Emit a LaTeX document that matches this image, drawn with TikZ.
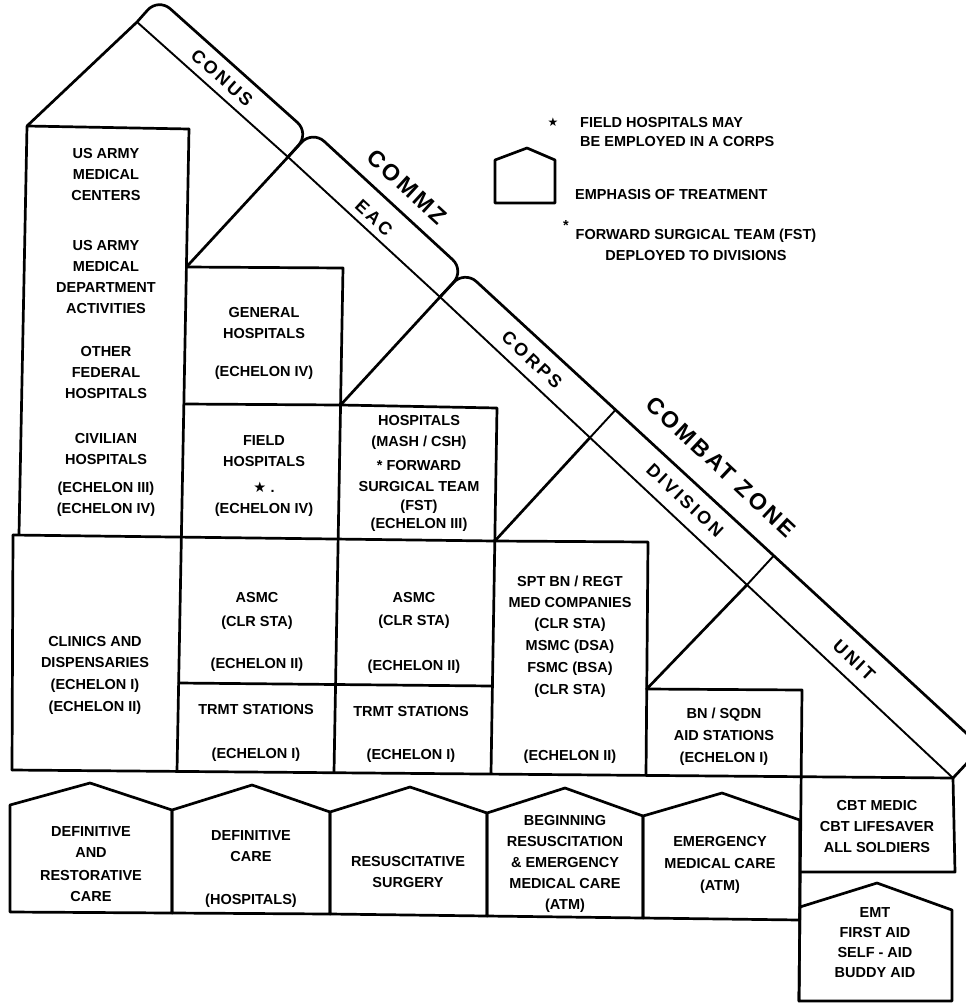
\documentclass[tikz,border=0pt]{standalone}
\usepackage{fontspec}
\setmainfont{Liberation Sans}
\newfontfamily\symfont{DejaVu Sans}
\usetikzlibrary{calc}
\begin{document}
\begin{tikzpicture}[x=1pt,y=-1pt,
  box/.style={line width=2.7pt,line join=round,line cap=round},
  innerline/.style={line width=1.9pt,line cap=round},
  lbl/.style={align=center,inner sep=0pt,font=\bfseries\fontsize{14.5}{21}\selectfont},
  band/.style={inner sep=0pt,font=\bfseries\fontsize{18}{18}\selectfont\addfontfeature{LetterSpace=15}},
  bigband/.style={inner sep=0pt,font=\bfseries\fontsize{23}{23}\selectfont\addfontfeature{LetterSpace=12}},
  tab/.style={box,rounded corners=16pt}]
\useasboundingbox (0,0) rectangle (966,1004);

% key points of the diagonal bands
\coordinate (A) at (137,22);
\coordinate (B) at (288,157);
\coordinate (C) at (440,297);
\coordinate (E) at (953,778);
\coordinate (D1) at (590,437.6);
\coordinate (D2) at (747,584.8);
\coordinate (A1) at (158.3,-1.9);
\coordinate (B1) at (309.3,133.1);
\coordinate (B2) at (312.4,130.5);
\coordinate (C2) at (464.4,270.5);
\coordinate (C3) at (464.6,270.7);
\coordinate (E3) at (981.7,747.4);

% box corners
\coordinate (g1) at (186.4,267);
\coordinate (m1) at (340.6,405);
\coordinate (s1) at (494.8,541);
\coordinate (b1) at (646.7,689);

% tabs
\draw[tab] (A) -- (A1) -- (B1) -- (B);
\draw[tab] (B) -- (B2) -- (C2) -- (C);
\draw[tab] (C) -- (C3) -- (E3);
\draw[box] (E3) -- (E);
\draw[innerline] (A) -- (B) -- (C) -- (E);
\draw[innerline] (D1) -- ($(C3)!(D1)!(E3)$);
\draw[innerline] (D2) -- ($(C3)!(D2)!(E3)$);

% roof and stair connectors
\draw[box] (27,126) -- (A);
\draw[box] (B) -- (g1);
\draw[box] (C) -- (m1);
\draw[box] (D1) -- (s1);
\draw[box] (D2) -- (b1);

% grid of boxes
\draw[box] (19,534) -- (27,126) -- (189,129);
\draw[box] (189,129) -- (177,771);
\draw[box] (g1) -- (343,268) -- (334,772);
\draw[box] (183.9,404) -- (m1) -- (497,408) -- (491,773);
\draw[box] (13,535) -- (s1) -- (648,542) -- (646,775);
\draw[box] (13,535) -- (12,770);
\draw[box] (178.6,683) -- (492.4,686);
\draw[box] (b1) -- (802,690) -- (799,1001);
\draw[box] (12,770) -- (E);
\draw[box] (E) -- (955,872) -- (800.2,872);

% bottom row houses
\draw[box] (10,912) -- (10,805) -- (90,783) -- (172,810) -- (172,913) -- cycle;
\draw[box] (172,913) -- (172,810) -- (252,785) -- (330,812) -- (330,914) -- cycle;
\draw[box] (330,914) -- (330,812) -- (410,787) -- (487,813) -- (487,916) -- cycle;
\draw[box] (487,916) -- (487,813) -- (565,788) -- (643,816) -- (643,918) -- cycle;
\draw[box] (643,918) -- (643,816) -- (722,793) -- (799.8,820) -- (799.7,920) -- cycle;
\draw[box] (799,1001) -- (799.9,907) -- (877,883) -- (952,910) -- (952,1001) -- cycle;

% legend house
\draw[box] (495,203) -- (495,160) -- (527,148) -- (555,160) -- (555,203) -- cycle;

% band labels
\node[band,rotate=-41.8] (conus) at (222,78) {CONUS};
\node[bigband,rotate=-42.6] (commz) at (407,187) {COMMZ};
\node[band,rotate=-42.6] (eac) at (374,218) {EAC};
\node[band,rotate=-43.2] (corps) at (532,360) {CORPS};
\node[bigband,rotate=-43.2] (cz) at (721,467) {COMBAT ZONE};
\node[band,rotate=-43.2] (div) at (685,500) {DIVISION};
\node[band,rotate=-43.2] (unit) at (854,660) {UNIT};

% legend
\node[inner sep=0pt,font=\symfont\fontsize{12}{12}\selectfont] (lstar) at (553,122) {★};
\node[lbl,align=left,anchor=west] (leg1) at (580,132.5) {FIELD HOSPITALS MAY\\[-2pt]BE EMPLOYED IN A CORPS};
\node[lbl,anchor=west] (leg2) at (575,195) {EMPHASIS OF TREATMENT};
\node[lbl] (legast) at (566,226) {*};
\node[lbl] (leg3) at (696,244.5) {FORWARD SURGICAL TEAM (FST)\\DEPLOYED TO DIVISIONS};

% cell texts
\node[lbl] (tL1) at (106,332) {US ARMY\\MEDICAL\\CENTERS\\[29pt]US ARMY\\MEDICAL\\DEPARTMENT\\ACTIVITIES\\[22pt]OTHER\\FEDERAL\\HOSPITALS\\[24pt]CIVILIAN\\HOSPITALS\\[7pt](ECHELON III)\\(ECHELON IV)};
\node[lbl] (tGEN) at (264,343) {GENERAL\\HOSPITALS\\[17pt](ECHELON IV)};
\node[lbl] (tFIELD) at (264,476.5) {FIELD\\HOSPITALS\\[5pt]{\symfont ★} .\\(ECHELON IV)};
\node[lbl] (tMASH) at (419,473.5) {HOSPITALS\\(MASH / CSH)\\[3pt]* FORWARD\\SURGICAL TEAM\\[-2pt](FST)\\[-3pt](ECHELON III)};
\node[lbl] (tCLIN) at (95,675) {CLINICS AND\\DISPENSARIES\\[1pt](ECHELON I)\\[1pt](ECHELON II)};
\node[lbl] (tASMC1) at (257,631.5) {ASMC\\[3pt](CLR STA)\\[21pt](ECHELON II)};
\node[lbl] (tASMC2) at (414,633) {ASMC\\[2pt](CLR STA)\\[24pt](ECHELON II)};
\node[lbl] (tTRMT1) at (256,733) {TRMT STATIONS\\[23pt](ECHELON I)};
\node[lbl] (tTRMT2) at (411,734.5) {TRMT STATIONS\\[22pt](ECHELON I)};
\node[lbl] (tSPT) at (570,669.5) {SPT BN / REGT\\MED COMPANIES\\(CLR STA)\\[1pt]MSMC (DSA)\\[1pt]FSMC (BSA)\\[1pt](CLR STA)\\[45pt](ECHELON II)};
\node[lbl] (tBN) at (724,737) {BN / SQDN\\[1pt]AID STATIONS\\[1pt](ECHELON I)};

% bottom texts
\node[lbl] (tH1) at (91,864.5) {DEFINITIVE\\AND\\[2pt]RESTORATIVE\\CARE};
\node[lbl] (tH2) at (251,869) {DEFINITIVE\\CARE\\[22pt](HOSPITALS)};
\node[lbl] (tH3) at (408,871.5) {RESUSCITATIVE\\SURGERY};
\node[lbl] (tH4) at (565,863.5) {BEGINNING\\RESUSCITATION\\\& EMERGENCY\\MEDICAL CARE\\(ATM)};
\node[lbl] (tH5) at (720,865) {EMERGENCY\\[1pt]MEDICAL CARE\\[1pt](ATM)};
\node[lbl] (tCBT) at (877,826) {CBT MEDIC\\CBT LIFESAVER\\ALL SOLDIERS};
\node[lbl] (tEMT) at (875,943) {EMT\\[-1pt]FIRST AID\\[-1pt]SELF - AID\\[-1pt]BUDDY AID};
\end{tikzpicture}
\end{document}
